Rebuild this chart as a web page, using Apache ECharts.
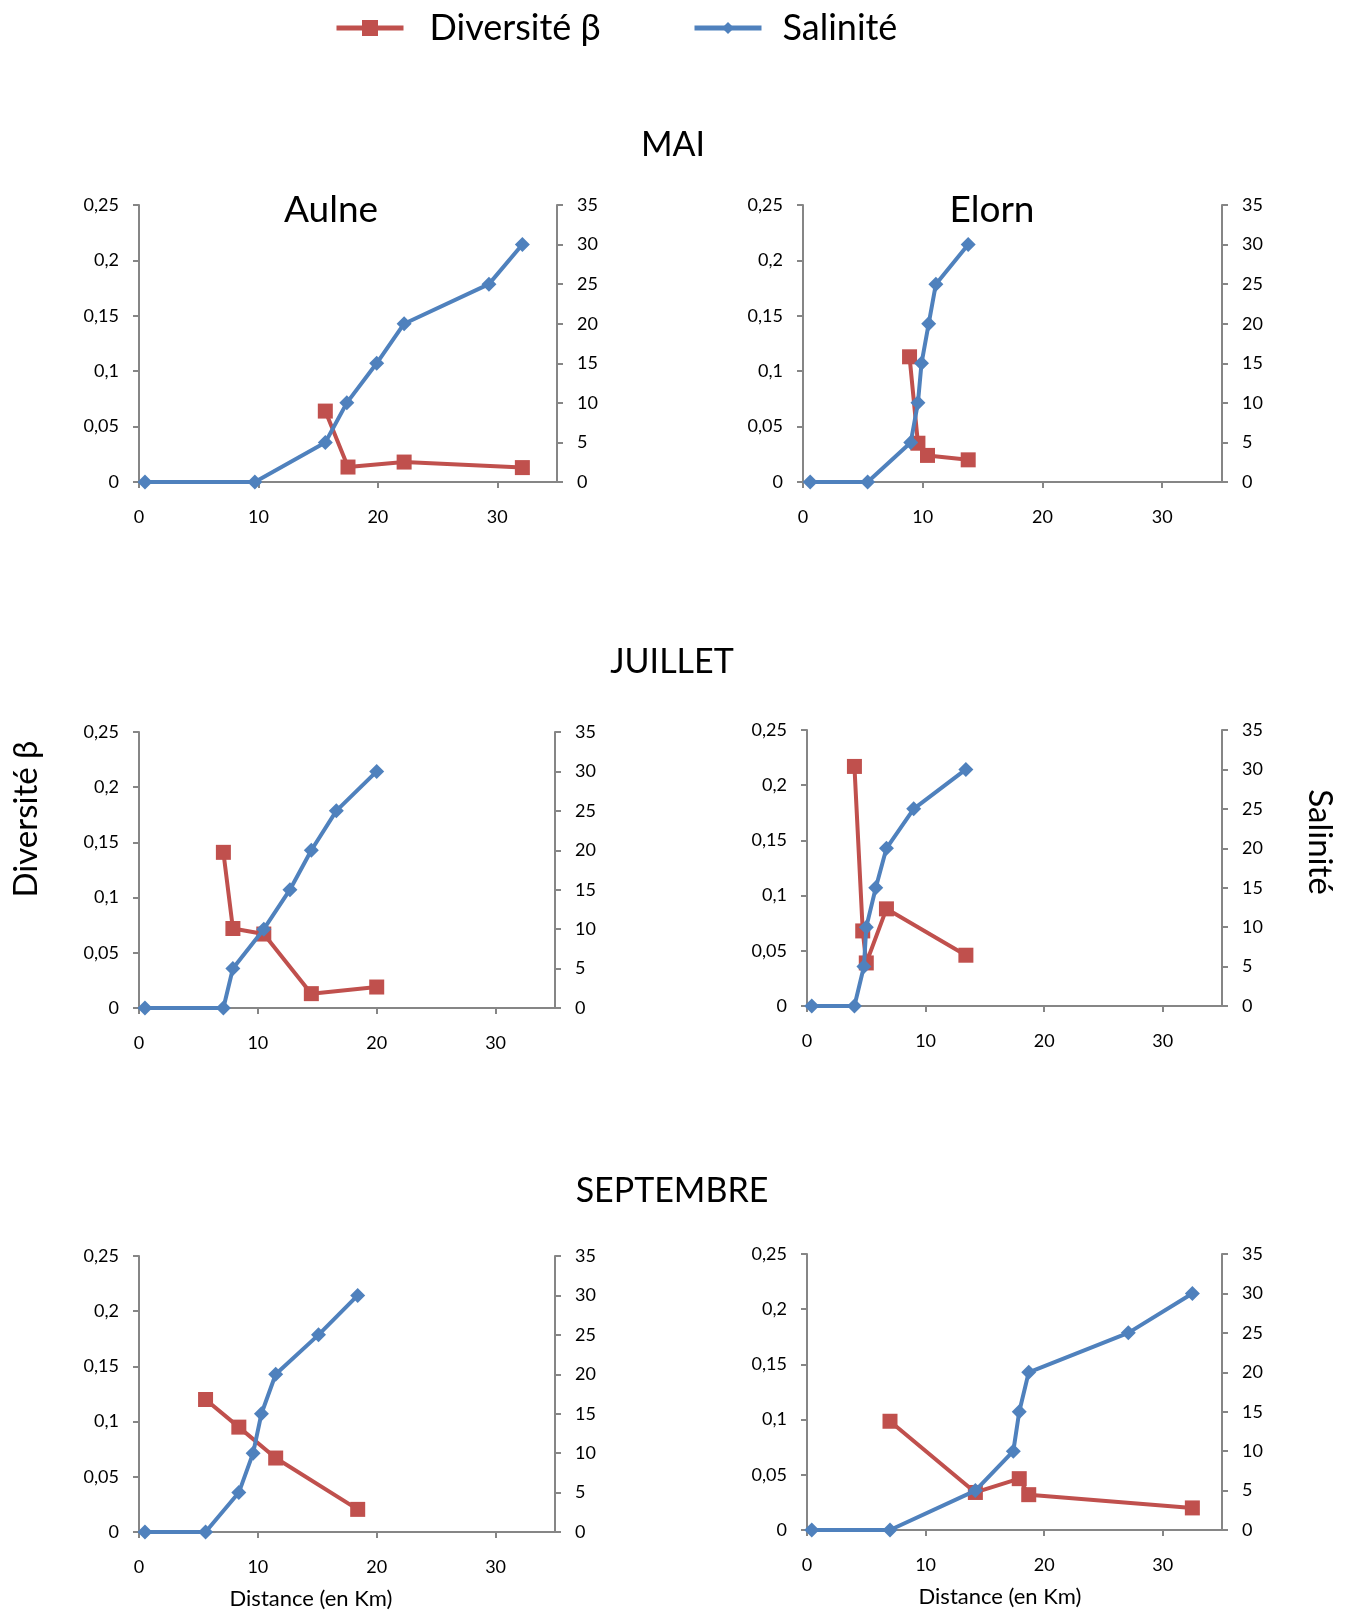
<!DOCTYPE html>
<html><head><meta charset="utf-8">
<script src="https://cdn.jsdelivr.net/npm/echarts@6/dist/echarts.min.js"></script>
<style>html,body{margin:0;padding:0;background:#fff}#c{width:1350px;height:1613px}</style>
</head><body><div id="c"></div>
<script>
// ---------- DATA ----------
const xTickLabels = [0, 10, 20, 30];
const seriesNames = ['Diversité β', 'Salinité'];
const monthTitles = ['MAI', 'JUILLET', 'SEPTEMBRE'];
const riverTitles = ['Aulne', 'Elorn'];
const xTitle = 'Distance (en Km)';

// MAI - Aulne
const maiAulneSalDist = [0.5, 9.7, 15.6, 17.4, 19.9, 22.2, 29.3, 32.1];
const maiAulneSal     = [0, 0, 5, 10, 15, 20, 25, 30];
const maiAulneDivDist = [15.6, 17.5, 22.2, 32.1];
const maiAulneDiv     = [0.064, 0.0135, 0.018, 0.013];
// MAI - Elorn
const maiElornSalDist = [0.6, 5.4, 9.0, 9.6, 9.9, 10.5, 11.1, 13.8];
const maiElornSal     = [0, 0, 5, 10, 15, 20, 25, 30];
const maiElornDivDist = [8.9, 9.6, 10.4, 13.8];
const maiElornDiv     = [0.113, 0.035, 0.024, 0.020];
// JUILLET - Aulne
const julAulneSalDist = [0.5, 7.1, 7.9, 10.5, 12.7, 14.5, 16.6, 20.0];
const julAulneSal     = [0, 0, 5, 10, 15, 20, 25, 30];
const julAulneDivDist = [7.1, 7.9, 10.5, 14.5, 20.0];
const julAulneDiv     = [0.141, 0.072, 0.067, 0.013, 0.019];
// JUILLET - Elorn
const julElornSalDist = [0.4, 4.0, 4.8, 5.0, 5.8, 6.7, 9.0, 13.4];
const julElornSal     = [0, 0, 5, 10, 15, 20, 25, 30];
const julElornDivDist = [4.0, 4.7, 5.0, 6.7, 13.4];
const julElornDiv     = [0.217, 0.068, 0.039, 0.088, 0.046];
// SEPTEMBRE - Aulne
const sepAulneSalDist = [0.5, 5.6, 8.4, 9.6, 10.3, 11.5, 15.1, 18.4];
const sepAulneSal     = [0, 0, 5, 10, 15, 20, 25, 30];
const sepAulneDivDist = [5.6, 8.4, 11.5, 18.4];
const sepAulneDiv     = [0.120, 0.095, 0.067, 0.0205];
// SEPTEMBRE - Elorn
const sepElornSalDist = [0.4, 7.0, 14.2, 17.4, 17.9, 18.7, 27.1, 32.5];
const sepElornSal     = [0, 0, 5, 10, 15, 20, 25, 30];
const sepElornDivDist = [7.0, 14.2, 17.9, 18.7, 32.5];
const sepElornDiv     = [0.0985, 0.034, 0.0465, 0.032, 0.020];

// ---------- LAYOUT / STYLE ----------
const RED = '#C0504D', BLUE = '#4F81BD', AXIS = '#868686';
const FONT = 'Lato';
const panels = [
  {sd: maiAulneSalDist, s: maiAulneSal, dd: maiAulneDivDist, d: maiAulneDiv, grid: {left: 139, top: 205, width: 418, height: 277}},
  {sd: maiElornSalDist, s: maiElornSal, dd: maiElornDivDist, d: maiElornDiv, grid: {left: 803, top: 205, width: 419, height: 277}},
  {sd: julAulneSalDist, s: julAulneSal, dd: julAulneDivDist, d: julAulneDiv, grid: {left: 139, top: 732, width: 416, height: 276}},
  {sd: julElornSalDist, s: julElornSal, dd: julElornDivDist, d: julElornDiv, grid: {left: 807, top: 730, width: 415, height: 276}},
  {sd: sepAulneSalDist, s: sepAulneSal, dd: sepAulneDivDist, d: sepAulneDiv, grid: {left: 139, top: 1256, width: 416, height: 276}},
  {sd: sepElornSalDist, s: sepElornSal, dd: sepElornDivDist, d: sepElornDiv, grid: {left: 807, top: 1254, width: 415, height: 276}}
];
const zip = (a, b) => a.map((v, i) => [v, b[i]]);

const grids = [], xAxes = [], yAxes = [], series = [];
const axLine = {show: true, lineStyle: {color: AXIS, width: 2}};
const axTick = {show: true, inside: false, length: 6, lineStyle: {color: AXIS, width: 2}};
const lblStyle = {color: '#000', fontFamily: FONT, fontSize: 18};

panels.forEach((p, i) => {
  grids.push(Object.assign({containLabel: false}, p.grid));
  xAxes.push({
    type: 'value', gridIndex: i, min: 0, max: 35, interval: 10,
    axisLine: axLine, splitLine: {show: false},
    axisTick: Object.assign({customValues: xTickLabels}, axTick),
    axisLabel: Object.assign({customValues: xTickLabels, margin: 26}, lblStyle)
  });
  yAxes.push({
    type: 'value', gridIndex: i, position: 'left', min: 0, max: 0.25, interval: 0.05,
    axisLine: axLine, axisTick: axTick, splitLine: {show: false},
    axisLabel: Object.assign({margin: 20, formatter: v => String(+v.toFixed(2)).replace('.', ',')}, lblStyle)
  });
  yAxes.push({
    type: 'value', gridIndex: i, position: 'right', min: 0, max: 35, interval: 5,
    axisLine: axLine, axisTick: axTick, splitLine: {show: false},
    axisLabel: Object.assign({margin: 20}, lblStyle)
  });
  series.push({
    name: seriesNames[0], type: 'line', xAxisIndex: i, yAxisIndex: 2 * i,
    data: zip(p.dd, p.d), symbol: 'rect', symbolSize: 15, z: 2,
    lineStyle: {color: RED, width: 4}, itemStyle: {color: RED}
  });
  series.push({
    name: seriesNames[1], type: 'line', xAxisIndex: i, yAxisIndex: 2 * i + 1,
    data: zip(p.sd, p.s), symbol: 'diamond', symbolSize: 15, z: 3,
    lineStyle: {color: BLUE, width: 4}, itemStyle: {color: BLUE}
  });
});

function txt(text, x, y, size, rot) {
  return {
    type: 'text', x: x, y: y, rotation: rot || 0,
    style: {text: text, font: size + 'px ' + FONT, fill: '#000',
      align: 'center', verticalAlign: 'middle', textAlign: 'center', textVerticalAlign: 'middle'}
  };
}

const graphics = [
  txt(monthTitles[0], 673, 145, 34),
  txt(monthTitles[1], 672, 662, 34),
  txt(monthTitles[2], 672, 1191, 34),
  txt(riverTitles[0], 331, 210, 37),
  txt(riverTitles[1], 992, 210, 37),
  txt(xTitle, 311, 1599, 22),
  txt(xTitle, 1000, 1597, 22),
  txt(seriesNames[0], 26, 819, 33, Math.PI / 2),
  txt(seriesNames[1], 1320, 842, 33, -Math.PI / 2)
];

const chart = echarts.init(document.getElementById('c'), null, {renderer: 'canvas'});
chart.setOption({
  animation: false,
  backgroundColor: '#fff',
  textStyle: {fontFamily: FONT},
  legend: [
    {data: [seriesNames[0]], left: 334, top: 10, itemWidth: 67, itemHeight: 20, padding: 0,
     lineStyle: {width: 5}, textStyle: {fontFamily: FONT, fontSize: 36, color: '#000', padding: [0, 0, 8, 21]}},
    {data: [seriesNames[1]], left: 692, top: 10, itemWidth: 67, itemHeight: 15, padding: 0,
     lineStyle: {width: 5}, textStyle: {fontFamily: FONT, fontSize: 36, color: '#000', padding: [0, 0, 8, 16]}}
  ],
  grid: grids, xAxis: xAxes, yAxis: yAxes, series: series,
  graphic: graphics
});
</script></body></html>
